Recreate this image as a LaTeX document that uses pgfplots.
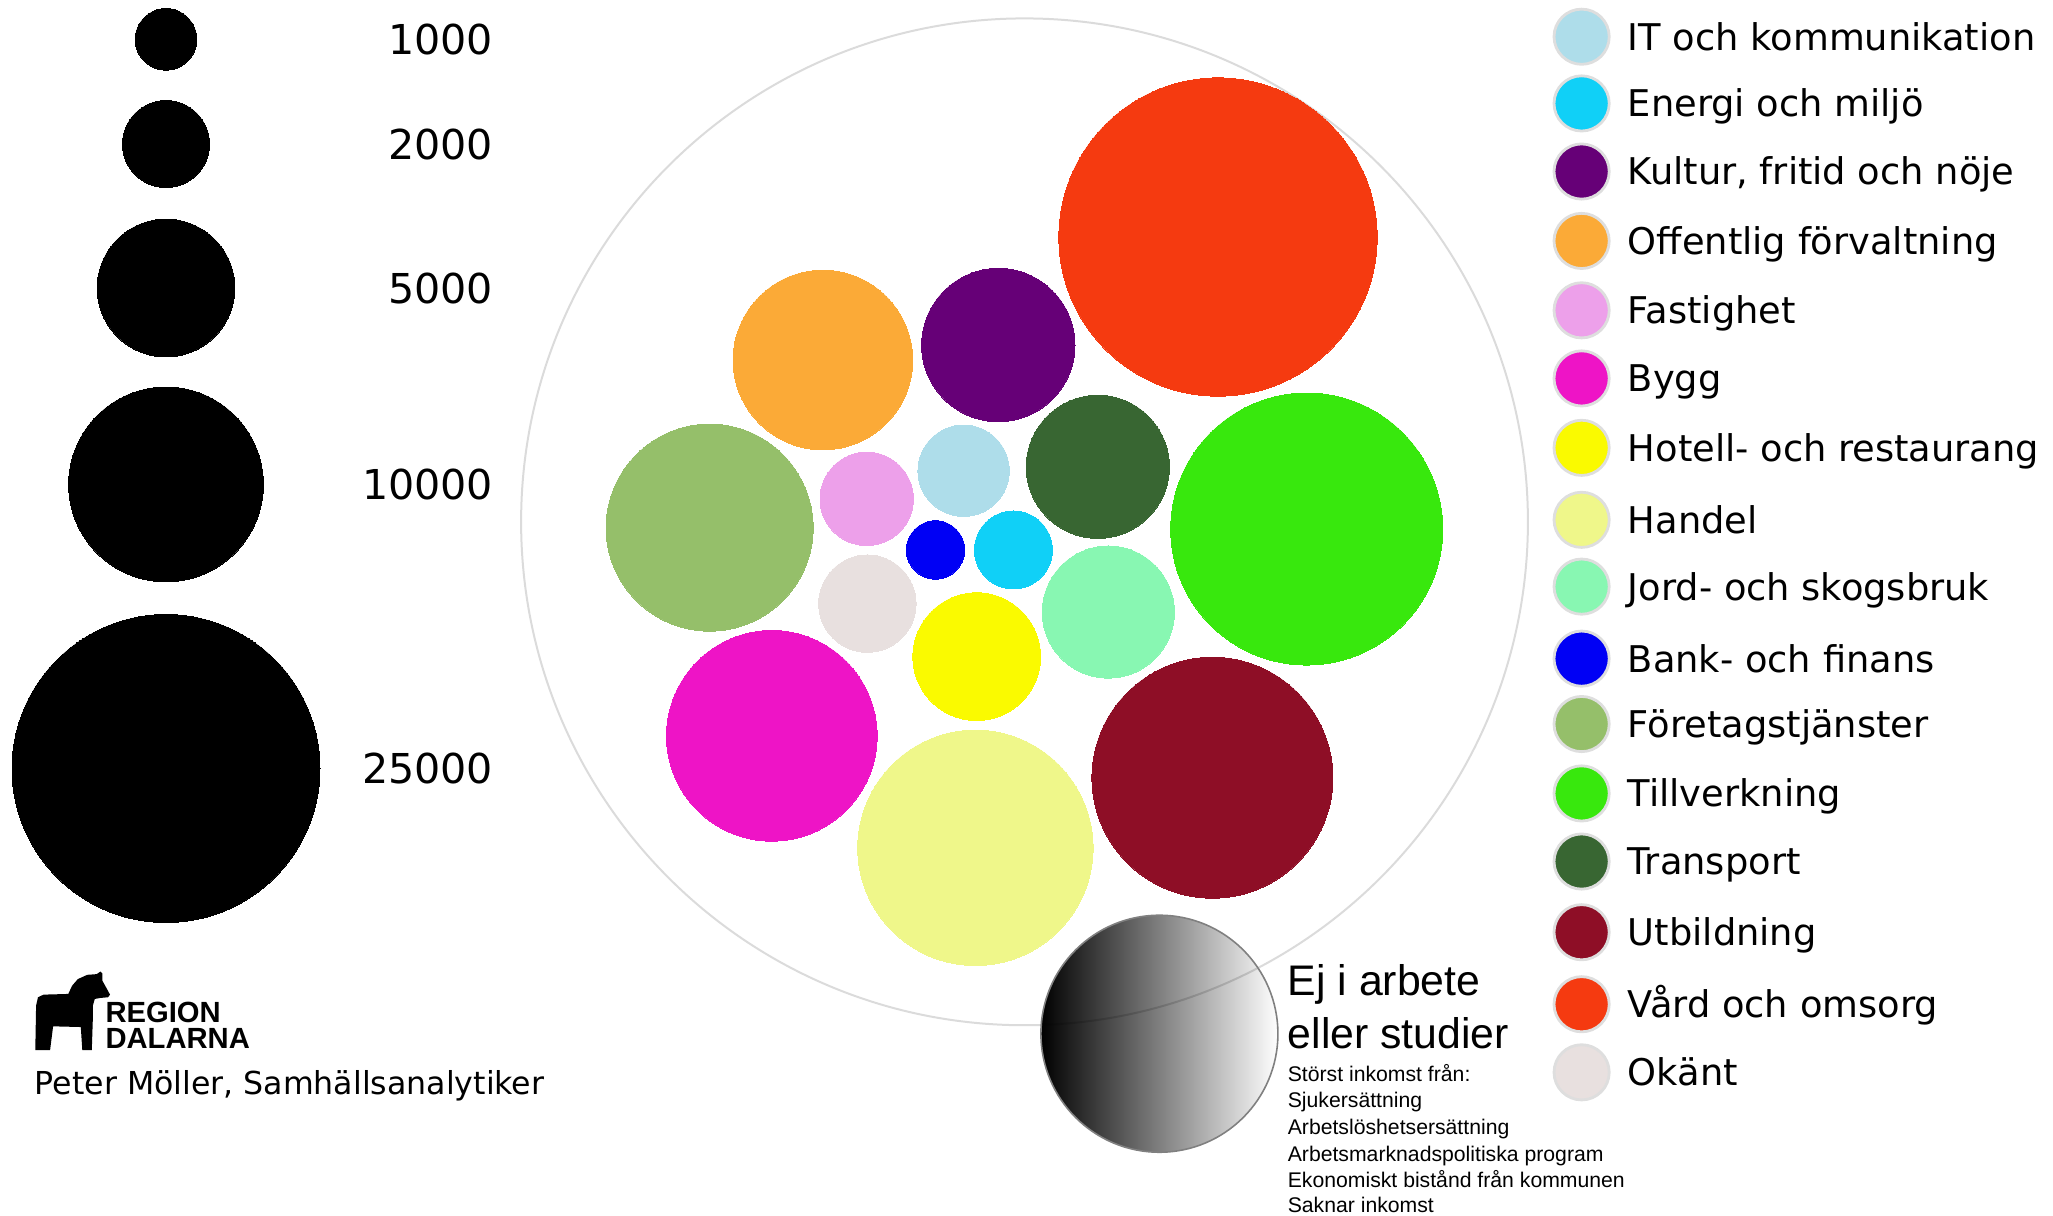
\documentclass[border=0pt]{standalone}
\usepackage{pgfplots}
\pgfplotsset{compat=1.18}
\usetikzlibrary{fadings}
\usepackage{fontspec}
\setmainfont{DejaVu Sans}
\newfontfamily\arialf{Liberation Sans}

\definecolor{cVard}{HTML}{F53A10}
\definecolor{cTill}{HTML}{38E80D}
\definecolor{cUtb}{HTML}{8E0E26}
\definecolor{cHandel}{HTML}{EFF78A}
\definecolor{cBygg}{HTML}{EE14C6}
\definecolor{cForet}{HTML}{95BF6A}
\definecolor{cOff}{HTML}{FBAA37}
\definecolor{cKult}{HTML}{660077}
\definecolor{cTrans}{HTML}{386632}
\definecolor{cJord}{HTML}{88F7B2}
\definecolor{cHot}{HTML}{FAFA00}
\definecolor{cIT}{HTML}{AEDDEA}
\definecolor{cFast}{HTML}{EDA0EA}
\definecolor{cOk}{HTML}{E8E0DF}
\definecolor{cEn}{HTML}{10D0F7}
\definecolor{cBank}{HTML}{0000F5}

% bubble: colour, x, y, value in thousands (radius proportional to sqrt(value))
\newcommand{\bubble}[4]{\addplot[only marks, mark=*, mark size={7.700*sqrt(#4)}, mark options={draw=#1, line width=0pt, fill=#1}] coordinates {(#2,#3)};}
% legend entry: colour, centre y, baseline y, label
\newcommand{\legitem}[4]{\addplot[only marks, mark=*, mark size=6.9pt, mark options={draw=black!13, line width=0.7pt, fill=#1}] coordinates {(1581.6,#2)};
\node[anchor=base west, inner sep=0pt, font=\fontsize{9.2}{11}\selectfont] at (axis cs:1627,#3) {#4};}
\newcommand{\sizelabel}[2]{\node[anchor=base east, inner sep=0pt, font=\fontsize{10.3}{12}\selectfont] at (axis cs:494,#1) {#2};}

\begin{document}
\begin{tikzpicture}
\begin{axis}[width=513.25pt, height=303.75pt, scale only axis,
  xmin=0, xmax=2053, ymin=0, ymax=1215, y dir=reverse,
  axis lines=none, clip=false]
\addplot[draw=none] coordinates {(0,0) (2053,1215)};

% size legend (values in thousands)
\bubble{black}{166}{39.3}{1}
\bubble{black}{166}{144}{2}
\bubble{black}{166}{288}{5}
\bubble{black}{166}{484.4}{10}
\bubble{black}{166}{768.5}{25}
\sizelabel{54.3}{1000}
\sizelabel{159}{2000}
\sizelabel{303}{5000}
\sizelabel{499.4}{10000}
\sizelabel{783.5}{25000}

% outer ring
\addplot[only marks, mark=o, mark size=125.85pt, mark options={draw=black!14, line width=0.5pt}] coordinates {(1024.5,521.8)};

% main bubbles (values in thousands)
\bubble{cVard}{1218}{237}{26.7}
\bubble{cTill}{1306.7}{529}{19.5}
\bubble{cUtb}{1212.4}{777.7}{15.3}
\bubble{cHandel}{975.4}{847.8}{14.6}
\bubble{cBygg}{771.8}{735.8}{11.7}
\bubble{cForet}{709.6}{527.6}{11.3}
\bubble{cOff}{822.9}{360}{8.5}
\bubble{cKult}{998.3}{345}{6.2}
\bubble{cTrans}{1097.8}{466.8}{5.4}
\bubble{cJord}{1108.3}{612}{4.6}
\bubble{cHot}{976.7}{656.6}{4.3}
\bubble{cIT}{963.6}{470.7}{2.2}
\bubble{cFast}{866.7}{498.8}{2.3}
\bubble{cOk}{867.4}{603.6}{2.5}
\bubble{cEn}{1013.4}{549.9}{1.6}
\bubble{cBank}{935.5}{549.9}{0.9}

% not working / studying (value 14.8 thousand)
\addplot[draw=none, nodes near coords={}, nodes near coords align={center},
  every node near coord/.append style={circle, anchor=center, inner sep=0pt,
  minimum size={15.4*sqrt(14.8)}, fill=black, path fading=east}] coordinates {(1159.4,1033.7)};
\addplot[only marks, mark=o, mark size={7.700*sqrt(14.8)}, mark options={draw=black!50, line width=0.4pt}] coordinates {(1159.4,1033.7)};

\node[anchor=base west, inner sep=0pt, font=\arialf\fontsize{10.7}{12}\selectfont] at (axis cs:1287,995) {Ej i arbete};
\node[anchor=base west, inner sep=0pt, font=\arialf\fontsize{10.7}{12}\selectfont] at (axis cs:1287,1048.8) {eller studier};
\node[anchor=base west, inner sep=0pt, font=\arialf\fontsize{5.3}{6}\selectfont] at (axis cs:1287,1081) {Störst inkomst från:};
\node[anchor=base west, inner sep=0pt, font=\arialf\fontsize{5.3}{6}\selectfont] at (axis cs:1287,1107.3) {Sjukersättning};
\node[anchor=base west, inner sep=0pt, font=\arialf\fontsize{5.3}{6}\selectfont] at (axis cs:1287,1134.8) {Arbetslöshetsersättning};
\node[anchor=base west, inner sep=0pt, font=\arialf\fontsize{5.3}{6}\selectfont] at (axis cs:1287,1161) {Arbetsmarknadspolitiska program};
\node[anchor=base west, inner sep=0pt, font=\arialf\fontsize{5.3}{6}\selectfont] at (axis cs:1287,1187.2) {Ekonomiskt bistånd från kommunen};
\node[anchor=base west, inner sep=0pt, font=\arialf\fontsize{5.3}{6}\selectfont] at (axis cs:1287,1212.4) {Saknar inkomst};

% legend
\legitem{cIT}{36.7}{50.1}{IT och kommunikation}
\legitem{cEn}{103.4}{116.8}{Energi och miljö}
\legitem{cKult}{171.5}{184.9}{Kultur, fritid och nöje}
\legitem{cOff}{240.9}{254.3}{Offentlig förvaltning}
\legitem{cFast}{310.3}{323.7}{Fastighet}
\legitem{cBygg}{378.4}{391.8}{Bygg}
\legitem{cHot}{447.8}{461.2}{Hotell- och restaurang}
\legitem{cHandel}{519.8}{533.2}{Handel}
\legitem{cJord}{586.6}{600.0}{Jord- och skogsbruk}
\legitem{cBank}{658.6}{672.0}{Bank- och finans}
\legitem{cForet}{724.0}{737.4}{Företagstjänster}
\legitem{cTill}{793.4}{806.8}{Tillverkning}
\legitem{cTrans}{861.5}{874.9}{Transport}
\legitem{cUtb}{932.2}{945.6}{Utbildning}
\legitem{cVard}{1004.2}{1017.6}{Vård och omsorg}
\legitem{cOk}{1072.3}{1085.7}{Okänt}

% logo
\addplot[fill=black, draw=none] coordinates {(35.3,1050.0) (36.1,1005.5) (38.0,997.2) (43.6,994.6) (68.3,993.9) (72.1,985.7) (77.8,979.1) (87.2,974.8) (96.7,974.1) (100.5,971.5) (102.4,973.5) (102.4,980.7) (107.0,989.0) (110.0,994.6) (108.1,997.2) (100.5,997.9) (94.8,998.9) (92.9,1005.5) (92.9,1017.0) (91.8,1050.0) (82.3,1050.0) (80.8,1027.0) (53.1,1026.3) (50.1,1050.0)} -- cycle;
\node[anchor=base west, inner sep=0pt, font=\arialf\bfseries\fontsize{7.3}{8}\selectfont] at (axis cs:104.7,1022) {REGION};
\node[anchor=base west, inner sep=0pt, font=\arialf\bfseries\fontsize{7.3}{8}\selectfont] at (axis cs:104.7,1048) {DALARNA};
\node[anchor=base west, inner sep=0pt, font=\fontsize{7.9}{9}\selectfont] at (axis cs:34,1094.5) {Peter Möller, Samhällsanalytiker};
\end{axis}
\end{tikzpicture}
\end{document}
